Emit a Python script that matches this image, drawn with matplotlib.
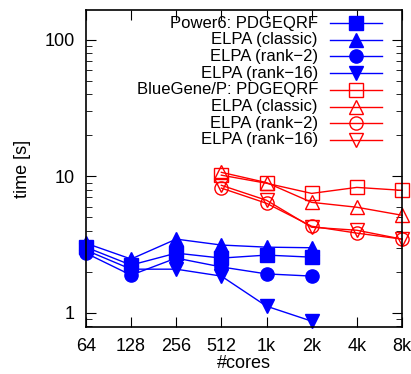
import numpy as np
import matplotlib
matplotlib.use("Agg")
import matplotlib.pyplot as plt
from matplotlib.lines import Line2D

plt.rcParams['font.family'] = ['Liberation Sans', 'DejaVu Sans']

# categories on the x axis
cores = ['64', '128', '256', '512', '1k', '2k', '4k', '8k']

# Power6 (blue, filled markers) -- 64 .. 2k
p6_pdgeqrf = [3.03, 2.24, 2.74, 2.52, 2.65, 2.56]
p6_classic = [3.24, 2.48, 3.47, 3.14, 3.03, 3.00]
p6_rank2 = [2.74, 1.89, 2.52, 2.17, 1.93, 1.86]
p6_rank16 = [2.88, 2.09, 2.09, 1.86, 1.12, 0.87]

# BlueGene/P (red, open markers) -- 512 .. 8k
bg_pdgeqrf = [10.2, 8.9, 7.5, 8.3, 7.9]
bg_classic = [10.7, 9.0, 6.45, 5.94, 5.19]
bg_rank2 = [8.2, 6.35, 4.31, 3.84, 3.47]
bg_rank16 = [8.6, 6.68, 4.24, 4.03, 3.47]

labels = ['Power6: PDGEQRF', 'ELPA (classic)', 'ELPA (rank\u22122)', 'ELPA (rank\u221216)',
          'BlueGene/P: PDGEQRF', 'ELPA (classic)', 'ELPA (rank\u22122)', 'ELPA (rank\u221216)']

x = np.arange(len(cores))

fig = plt.figure(figsize=(4.11, 3.74), dpi=100)
ax = fig.add_axes([0.209, 0.126, 0.769, 0.847])

blue = '#0000ff'
red = '#ff0000'
series = [
    (x[:6], p6_pdgeqrf, blue, 's', True),
    (x[:6], p6_classic, blue, '^', True),
    (x[:6], p6_rank2, blue, 'o', True),
    (x[:6], p6_rank16, blue, 'v', True),
    (x[3:], bg_pdgeqrf, red, 's', False),
    (x[3:], bg_classic, red, '^', False),
    (x[3:], bg_rank2, red, 'o', False),
    (x[3:], bg_rank16, red, 'v', False),
]

for xs, ys, c, m, filled in series:
    ax.plot(xs, ys, color=c, lw=1, marker=m, markersize=9.5,
            markerfacecolor=c if filled else 'none', markeredgecolor=c,
            markeredgewidth=1, clip_on=False)

ax.set_yscale('log')
ax.set_ylim(0.79, 165)
ax.set_xlim(0, 7)
ax.set_xticks(x)
ax.set_xticklabels(cores)
ax.set_yticks([1, 10, 100])
ax.set_yticklabels(['1', '10', '100'])
ax.tick_params(which='both', direction='in', top=True, right=True, labelsize=13)
ax.tick_params(which='major', length=7, pad=8)
ax.tick_params(which='minor', length=4)
ax.tick_params(axis='x', which='minor', bottom=False, top=False)
for s in ax.spines.values():
    s.set_linewidth(1.2)

ax.set_xlabel('#cores', fontsize=13, labelpad=0)
ax.set_ylabel('time [s]', fontsize=13, labelpad=10)

# gnuplot-style key: right aligned text, sample to the right
y0, dy = 0.959, 0.0527
for i, (xs, ys, c, m, filled) in enumerate(series):
    yy = y0 - i * dy
    ax.text(0.734, yy, labels[i], transform=ax.transAxes, ha='right', va='center', fontsize=12)
    ax.add_line(Line2D([0.772, 0.937], [yy, yy], transform=ax.transAxes, color=c, lw=1))
    ax.add_line(Line2D([0.854], [yy], transform=ax.transAxes, color=c, marker=m, markersize=9.5,
                       markerfacecolor=c if filled else 'none', markeredgecolor=c))

fig.savefig('out.png', dpi=100)
